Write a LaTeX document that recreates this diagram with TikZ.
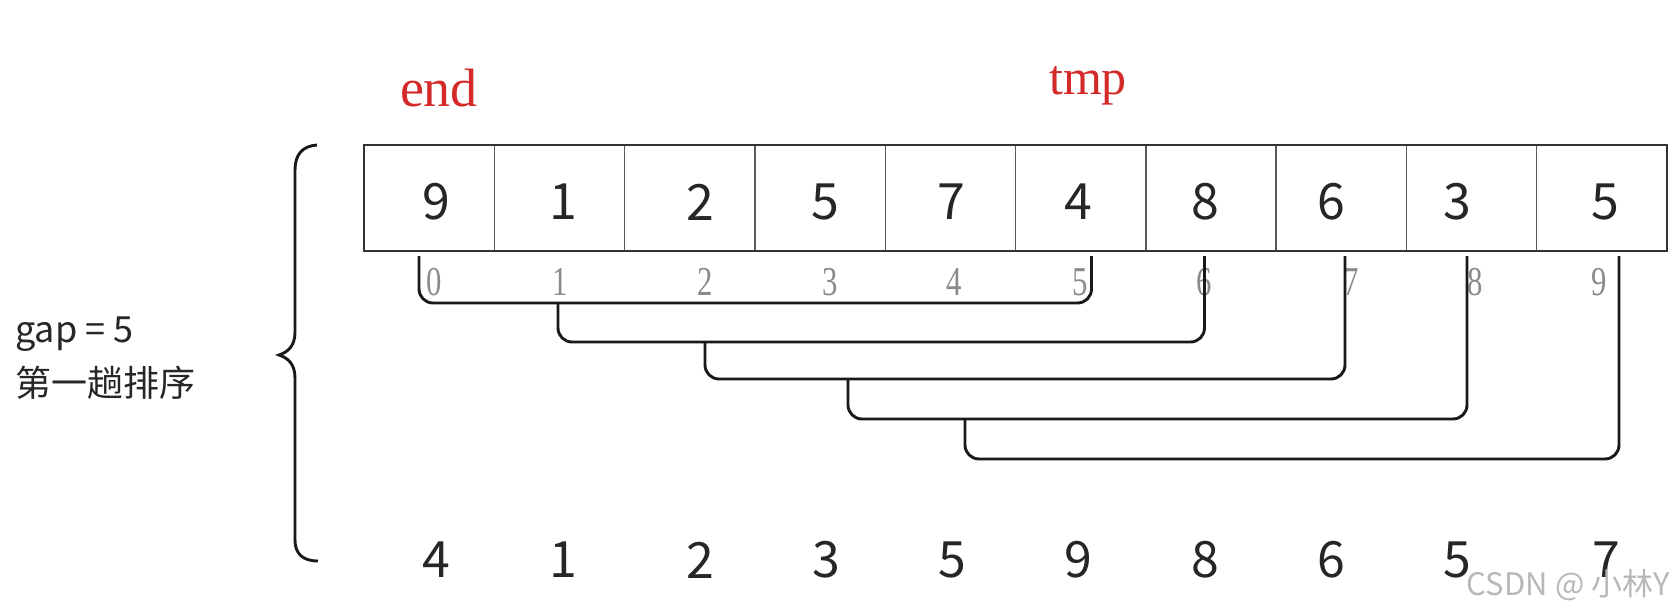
\documentclass[tikz,border=0pt]{standalone}
\usepackage{fontspec}
\newfontfamily\cjk{Noto Sans CJK SC}
\newfontfamily\sernum{Liberation Serif}
\definecolor{lblred}{HTML}{D42A2A}
\definecolor{idxgray}{HTML}{8A8A8A}
\definecolor{cellline}{HTML}{5A5A5A}
\begin{document}
\begin{tikzpicture}[x=1pt,y=-1pt,
  cell/.style={draw=cellline,line width=1.4pt,minimum width=130.3pt,minimum height=106pt,inner sep=0pt,outer sep=0pt},
  val/.style={font=\cjk\fontsize{50}{56}\selectfont,text=black!85,inner sep=0pt},
  idx/.style={font=\sernum\fontsize{41}{45}\selectfont,text=idxgray,inner sep=0pt},
  redlbl/.style={font=\sernum\fontsize{54}{60}\selectfont,text=lblred,inner sep=0pt},
  bk/.style={line width=2.9pt,black!90,rounded corners=14pt},
  brace/.style={line width=2.9pt,black!90}]
\useasboundingbox (0,0) rectangle (1675,615);
\fill[white] (0,0) rectangle (1675,615);
% cells
\foreach \i in {0,...,9}{
  \node[cell] (c\i) at ({364+130.3*\i+65.15},198) {};
}
\draw[line width=1.8pt,black!80] (364,145) rectangle (1667,251);
% values in cells
\foreach \x/\v [count=\k from 0] in {436/9,563/1,700/2,825/5,951/7,1078/4,1205/8,1331/6,1457/3,1605/5}{
  \node[val] (v\k) at (\x,202) {\v};
}
% indices
\foreach \x/\v in {434/0,560/1,705/2,830/3,954/4,1080/5,1204/6,1351/7,1475/8,1599/9}{
  \node[idx] (i\v) at (\x,282) {\scalebox{0.75}[1]{\v}};
}
% result row
\foreach \x/\v [count=\k from 0] in {436/4,563/1,700/2,826/3,952/5,1078/9,1205/8,1331/6,1457/5,1606/7}{
  \node[val] (r\k) at (\x,560) {\v};
}
% red labels
\node[redlbl,anchor=base] (endlbl) at (439,107) {end};
\node[redlbl,anchor=base,font=\sernum\fontsize{50}{56}\selectfont] (tmplbl) at (1088,95) {tmp};
% bracket endpoints
\coordinate (L1) at (419,256);  \coordinate (R1) at (1091.5,256);
\coordinate (L2) at (558,303);  \coordinate (R2) at (1204.5,256);
\coordinate (L3) at (705,342);  \coordinate (R3) at (1345,256);
\coordinate (L4) at (848,379);  \coordinate (R4) at (1467,256);
\coordinate (L5) at (965,419);  \coordinate (R5) at (1619,256);
\draw[bk] (L1) -- ++(0,47) -| (R1);
\draw[bk] (L2) -- ++(0,39) -| (R2);
\draw[bk] (L3) -- ++(0,37) -| (R3);
\draw[bk] (L4) -- ++(0,40) -| (R4);
\draw[bk] (L5) -- ++(0,40) -| (R5);
% curly brace
\draw[brace] (317,145) .. controls (302,146) and (295,155) .. (295,170) -- (295,332)
  .. controls (295,346) and (288,352) .. (279,355)
  .. controls (288,358) and (295,364) .. (295,378) -- (295,540)
  .. controls (295,553) and (302,561) .. (318,561);
% left text
\node[anchor=base west,inner sep=0pt,font=\cjk\fontsize{36}{40}\selectfont,text=black!85] (gap) at (15,342) {gap = 5};
\node[anchor=west,inner sep=0pt,font=\cjk\fontsize{36}{40}\selectfont,text=black!85] (pass) at (15,383) {第一趟排序};
% watermark
\node[anchor=east,inner sep=0pt,font=\cjk\fontsize{31}{36}\selectfont,text=black!28] (wm) at (1670,585) {CSDN @ 小林Y};
\end{tikzpicture}
\end{document}
